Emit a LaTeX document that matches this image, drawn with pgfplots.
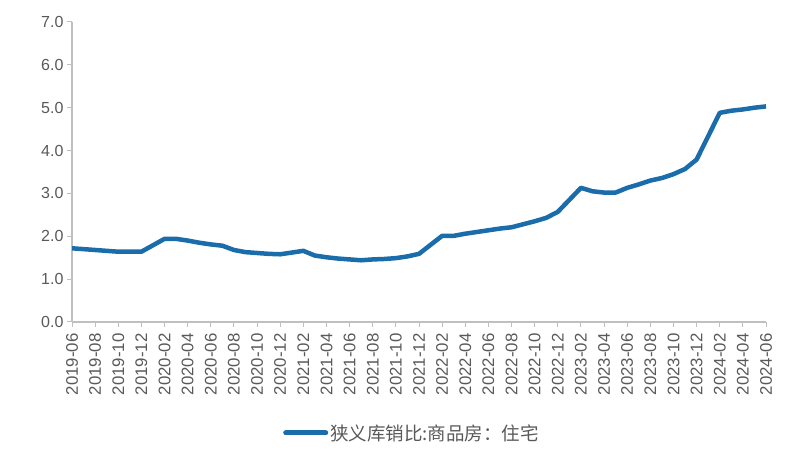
\documentclass[border=0pt]{standalone}
\usepackage{fontspec}
\setmainfont{Liberation Sans}
\newfontfamily\cjk{Noto Sans CJK SC}
\usepackage{pgfplots}
\pgfplotsset{compat=1.18}
\usetikzlibrary{calc}
\definecolor{lineblue}{RGB}{26,108,171}
\definecolor{axisgray}{RGB}{191,191,191}
\definecolor{labelgray}{RGB}{89,89,89}

% month index 0 = 2019-06; January values are not published
\pgfplotstableread{
m   v
0   1.72
1   1.70
2   1.68
3   1.66
4   1.64
5   1.64
6   1.64
8   1.94
9   1.94
10  1.90
11  1.85
12  1.81
13  1.78
14  1.68
15  1.63
16  1.61
17  1.59
18  1.58
20  1.66
21  1.55
22  1.51
23  1.48
24  1.46
25  1.44
26  1.46
27  1.47
28  1.49
29  1.53
30  1.59
32  2.01
33  2.01
34  2.06
35  2.10
36  2.14
37  2.18
38  2.21
39  2.28
40  2.35
41  2.43
42  2.57
44  3.13
45  3.05
46  3.02
47  3.02
48  3.13
49  3.21
50  3.30
51  3.36
52  3.45
53  3.57
54  3.79
56  4.88
57  4.93
58  4.96
59  5.00
60  5.03
}\ratio

\begin{document}
\begin{tikzpicture}
\begin{axis}[
    scale only axis,
    width=694pt, height=300pt,
    xmin=0, xmax=60,
    ymin=0, ymax=7,
    axis lines=left,
    axis line style={-, draw=axisgray, line width=1.2pt},
    tick style={draw=axisgray, line width=1pt},
    tick align=outside,
    major tick length=5pt,
    xtick={0,2,...,60},
    xticklabels={2019-06,2019-08,2019-10,2019-12,2020-02,2020-04,2020-06,2020-08,2020-10,2020-12,2021-02,2021-04,2021-06,2021-08,2021-10,2021-12,2022-02,2022-04,2022-06,2022-08,2022-10,2022-12,2023-02,2023-04,2023-06,2023-08,2023-10,2023-12,2024-02,2024-04,2024-06},
    xticklabel shift=3pt,
    x tick label style={rotate=90, anchor=east, font=\fontsize{16.8}{17}\selectfont, text=labelgray},
    ytick={0,1,...,7},
    y tick label style={font=\fontsize{16}{16}\selectfont, text=labelgray},
    yticklabel style={/pgf/number format/.cd, fixed, fixed zerofill, precision=1},
    /pgf/number format/assume math mode=true,
    legend style={at={(0.49,-0.37)}, anchor=center, draw=none, fill=none,
        font=\cjk\fontsize{18.5}{19}\selectfont, text=labelgray},
    legend image code/.code={\draw[#1, line width=5pt, line cap=round] (0pt,0pt) -- (40pt,0pt);},
]
\addplot[lineblue, line width=4.5pt, line join=round] table[x=m, y=v] {\ratio};
\addlegendentry{狭义库销比:商品房：住宅}
\end{axis}
\pgfresetboundingbox
\path (current axis.south west) ++(-72pt,-138pt) rectangle ($(current axis.north east)+(25pt,22pt)$);
\end{tikzpicture}
\end{document}
